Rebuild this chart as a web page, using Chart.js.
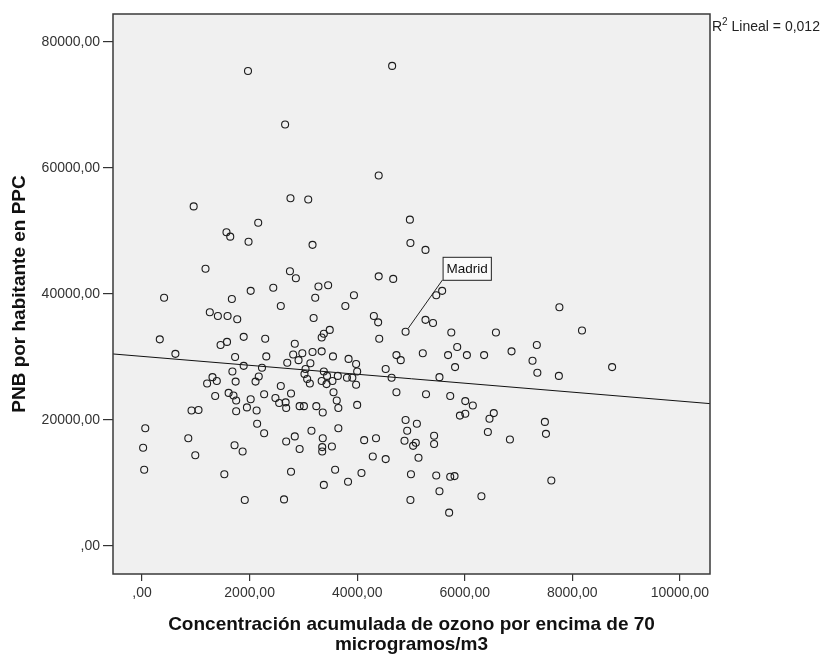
<!DOCTYPE html>
<html>
<head>
<meta charset="utf-8">
<script src="https://cdn.jsdelivr.net/npm/chart.js@4/dist/chart.umd.min.js"></script>
<style>
  html, body { margin: 0; padding: 0; background: #fff; }
</style>
</head>
<body>
<canvas id="chart" width="827" height="655"></canvas>
<script>
// ozone (accumulated concentration above 70 µg/m3) and GDP per capita, one pair per region
const ozone = [
  4900,
  1970, 4650, 2660, 4400, 960, 2760, 3090, 4980, 2160, 1570, 1640, 1980, 3170, 4990,
  1180, 2750, 2860, 4400, 4670, 3280, 3460, 2440, 2020, 410, 3940, 5270,
  1670, 1260, 1410, 1590, 1770, 330, 1890, 2290, 1460, 1580, 620, 1730, 1890, 2230,
  1680, 1310, 1390, 1210, 1740, 2170, 2110, 1360, 1610, 1700, 1750, 2020, 2270, 920,
  1050, 1750, 1950, 2130, 2140, 2270, 60, 20, 40, 860, 990, 1720, 1870, 1530, 1910,
  3220, 2580, 3780, 3190, 4310, 4390, 3490, 3380, 3340, 4410, 2840, 2310, 2810, 2980,
  3170, 3340, 3550, 2910, 2700, 3130, 3840, 3980, 4730, 4810, 4530, 3040, 3020, 3070,
  3120, 3380, 3440, 3340, 3430, 3540, 3640, 3810, 3910, 4000, 3980, 4640, 2580, 2770,
  2480, 2550, 2670, 2680, 2930, 3010, 3240, 3360, 3560, 3620, 3650, 4000, 4730, 3150,
  3650, 2840, 2680, 3360, 2930, 3350, 3350, 3530, 4130, 4350, 4290, 4530, 4900, 4930,
  4880, 5040, 2770, 3590, 4080, 3830, 3380, 2640, 5000, 4990,
  5470, 5580, 7760, 5270, 5410, 5750, 6580, 7340, 5860, 5220, 5690, 6040, 6360, 6870,
  7260, 7350, 5820, 7750, 5530, 5280, 5730, 6010, 6150, 5910, 6010, 6540, 6460, 6430,
  6840, 7490, 7510, 5110, 5090, 5140, 5430, 5430, 5470, 5730, 5810, 5530, 6310, 5710,
  7610, 8180, 8740
];
const pnb = [
  34000,
  75400, 76200, 66900, 58800, 53900, 55200, 55000, 51800, 51300, 49800, 49100, 48300, 47800, 48100,
  44000, 43600, 42500, 42800, 42400, 41200, 41400, 41000, 40500, 39400, 39800, 47000,
  39200, 37100, 36500, 36500, 36000, 32800, 33200, 32900, 31900, 32400, 30500, 30000, 28600, 28300,
  27700, 26800, 26200, 25800, 26100, 26900, 26100, 23800, 24300, 23900, 23100, 23300, 24100, 21500,
  21600, 21400, 22000, 21500, 19400, 17900, 18700, 15600, 12100, 17100, 14400, 16000, 15000, 11400, 7300,
  39400, 38100, 38100, 36200, 36500, 35500, 34300, 33700, 33100, 32900, 32100, 30100, 30400, 30600,
  30800, 30900, 30100, 29500, 29100, 29000, 29700, 28900, 30300, 29500, 28100, 28100, 27300, 26500,
  25800, 27700, 27000, 26200, 25700, 26200, 27000, 26700, 26700, 27700, 25600, 26700, 25400, 24200,
  23500, 22700, 22800, 21900, 22200, 22200, 22200, 21200, 24400, 23100, 21900, 22400, 24400, 18300,
  18700, 17400, 16600, 17100, 15400, 15700, 15000, 15800, 16800, 17100, 14200, 13800, 20000, 18300,
  16700, 15900, 11800, 12100, 11600, 10200, 9700, 7400, 11400, 7300,
  39800, 40500, 37900, 35900, 35400, 33900, 33900, 31900, 31600, 30600, 30300, 30300, 30300, 30900,
  29400, 27500, 28400, 27000, 26800, 24100, 23800, 23000, 22300, 20700, 21000, 21100, 20200, 18100,
  16900, 19700, 17800, 19400, 16400, 14000, 17500, 16200, 11200, 11000, 11100, 8700, 7900, 5300,
  10400, 34200, 28400
];
const madridIndex = 0;
const madridName = 'Madrid';

const xTicks = [0, 2000, 4000, 6000, 8000, 10000];
const xTickLabels = [',00', '2000,00', '4000,00', '6000,00', '8000,00', '10000,00'];
const yTicks = [0, 20000, 40000, 60000, 80000];
const yTickLabels = [',00', '20000,00', '40000,00', '60000,00', '80000,00'];

// linear fit
const fitIntercept = 30100;
const fitSlope = -0.71;
const r2Label = ' Lineal = 0,012';

const xMin = -540, xMax = 10560;
const yMin = -4440, yMax = 84440;

const FONT = '"Liberation Sans", Arial, sans-serif';

const frame = {
  id: 'frame',
  beforeDraw(chart) {
    const { ctx, chartArea: a } = chart;
    ctx.save();
    ctx.fillStyle = '#ffffff';
    ctx.fillRect(0, 0, chart.width, chart.height);
    ctx.fillStyle = '#f0f0f0';
    ctx.fillRect(a.left, a.top, a.right - a.left, a.bottom - a.top);
    ctx.restore();
  },
  afterDatasetsDraw(chart) {
    const { ctx, scales: { x, y } } = chart;
    // callout for Madrid
    const px = x.getPixelForValue(ozone[madridIndex]);
    const py = y.getPixelForValue(pnb[madridIndex]);
    const bx = px + 37, by = py - 52;
    ctx.save();
    ctx.font = '13.5px ' + FONT;
    const w = ctx.measureText(madridName).width + 7, h = 23;
    ctx.strokeStyle = '#222';
    ctx.lineWidth = 1;
    ctx.beginPath();
    ctx.moveTo(px + 2.5, py - 3.3);
    ctx.lineTo(bx, by);
    ctx.stroke();
    ctx.fillStyle = '#fafafa';
    ctx.fillRect(bx, by - h, w, h);
    ctx.strokeRect(bx + 0.5, by - h + 0.5, w, h);
    ctx.fillStyle = '#111';
    ctx.textBaseline = 'middle';
    ctx.fillText(madridName, bx + 4, by - h / 2 + 1);
    ctx.restore();
  },
  afterDraw(chart) {
    const { ctx, chartArea: a } = chart;
    ctx.save();
    ctx.strokeStyle = '#3a3a3a';
    ctx.lineWidth = 1.5;
    ctx.strokeRect(a.left, a.top, a.right - a.left, a.bottom - a.top);

    // R² label at the top right corner
    let tx = a.right + 2;
    const ty = a.top + 13;
    ctx.fillStyle = '#222';
    ctx.textBaseline = 'middle';
    ctx.font = '14px ' + FONT;
    ctx.fillText('R', tx, ty);
    tx += ctx.measureText('R').width;
    ctx.font = '10px ' + FONT;
    ctx.fillText('2', tx, ty - 5);
    tx += ctx.measureText('2').width;
    ctx.font = '14px ' + FONT;
    ctx.fillText(r2Label, tx, ty);
    ctx.restore();
  }
};

const points = ozone.map((v, i) => ({ x: v, y: pnb[i] }));
const fitLine = [xMin, xMax].map(v => ({ x: v, y: fitIntercept + fitSlope * v }));

new Chart(document.getElementById('chart'), {
  type: 'scatter',
  data: {
    datasets: [
      {
        data: points,
        pointStyle: 'circle',
        pointRadius: 3.5,
        pointHoverRadius: 3.5,
        borderWidth: 1.1,
        borderColor: '#1c1c1c',
        backgroundColor: 'rgba(0,0,0,0)'
      },
      {
        data: fitLine,
        showLine: true,
        pointRadius: 0,
        borderColor: '#111',
        borderWidth: 1
      }
    ]
  },
  options: {
    responsive: false,
    animation: false,
    events: [],
    layout: { padding: { left: 0, top: 14, right: 117, bottom: 0 } },
    plugins: { legend: { display: false }, tooltip: { enabled: false } },
    scales: {
      x: {
        type: 'linear',
        min: xMin,
        max: xMax,
        afterBuildTicks: s => { s.ticks = xTicks.map(v => ({ value: v })); },
        afterFit: s => { s.height = 81; },
        border: { display: false },
        grid: { drawOnChartArea: false, drawTicks: true, tickLength: 7, color: '#333', lineWidth: 1.2 },
        ticks: {
          autoSkip: false,
          maxRotation: 0,
          padding: 4,
          color: '#333',
          font: { family: FONT, size: 14 },
          callback: (v, i) => xTickLabels[i]
        },
        title: {
          display: true,
          text: ['Concentración acumulada de ozono por encima de 70', 'microgramos/m3'],
          color: '#111',
          font: { family: FONT, size: 19, weight: 'bold', lineHeight: 20 / 19 },
          padding: { top: 0, bottom: 0 }
        }
      },
      y: {
        type: 'linear',
        min: yMin,
        max: yMax,
        afterBuildTicks: s => { s.ticks = yTicks.map(v => ({ value: v })); },
        afterFit: s => { s.width = 113; },
        border: { display: false },
        grid: { drawOnChartArea: false, drawTicks: true, tickLength: 10, color: '#333', lineWidth: 1.2 },
        ticks: {
          padding: 3,
          color: '#333',
          font: { family: FONT, size: 14 },
          callback: (v, i) => yTickLabels[i]
        },
        title: {
          display: true,
          text: 'PNB por habitante en PPC',
          color: '#111',
          font: { family: FONT, size: 19, weight: 'bold', lineHeight: 1.2 },
          padding: { top: 8.6, bottom: 0 }
        }
      }
    }
  },
  plugins: [frame]
});
</script>
</body>
</html>
